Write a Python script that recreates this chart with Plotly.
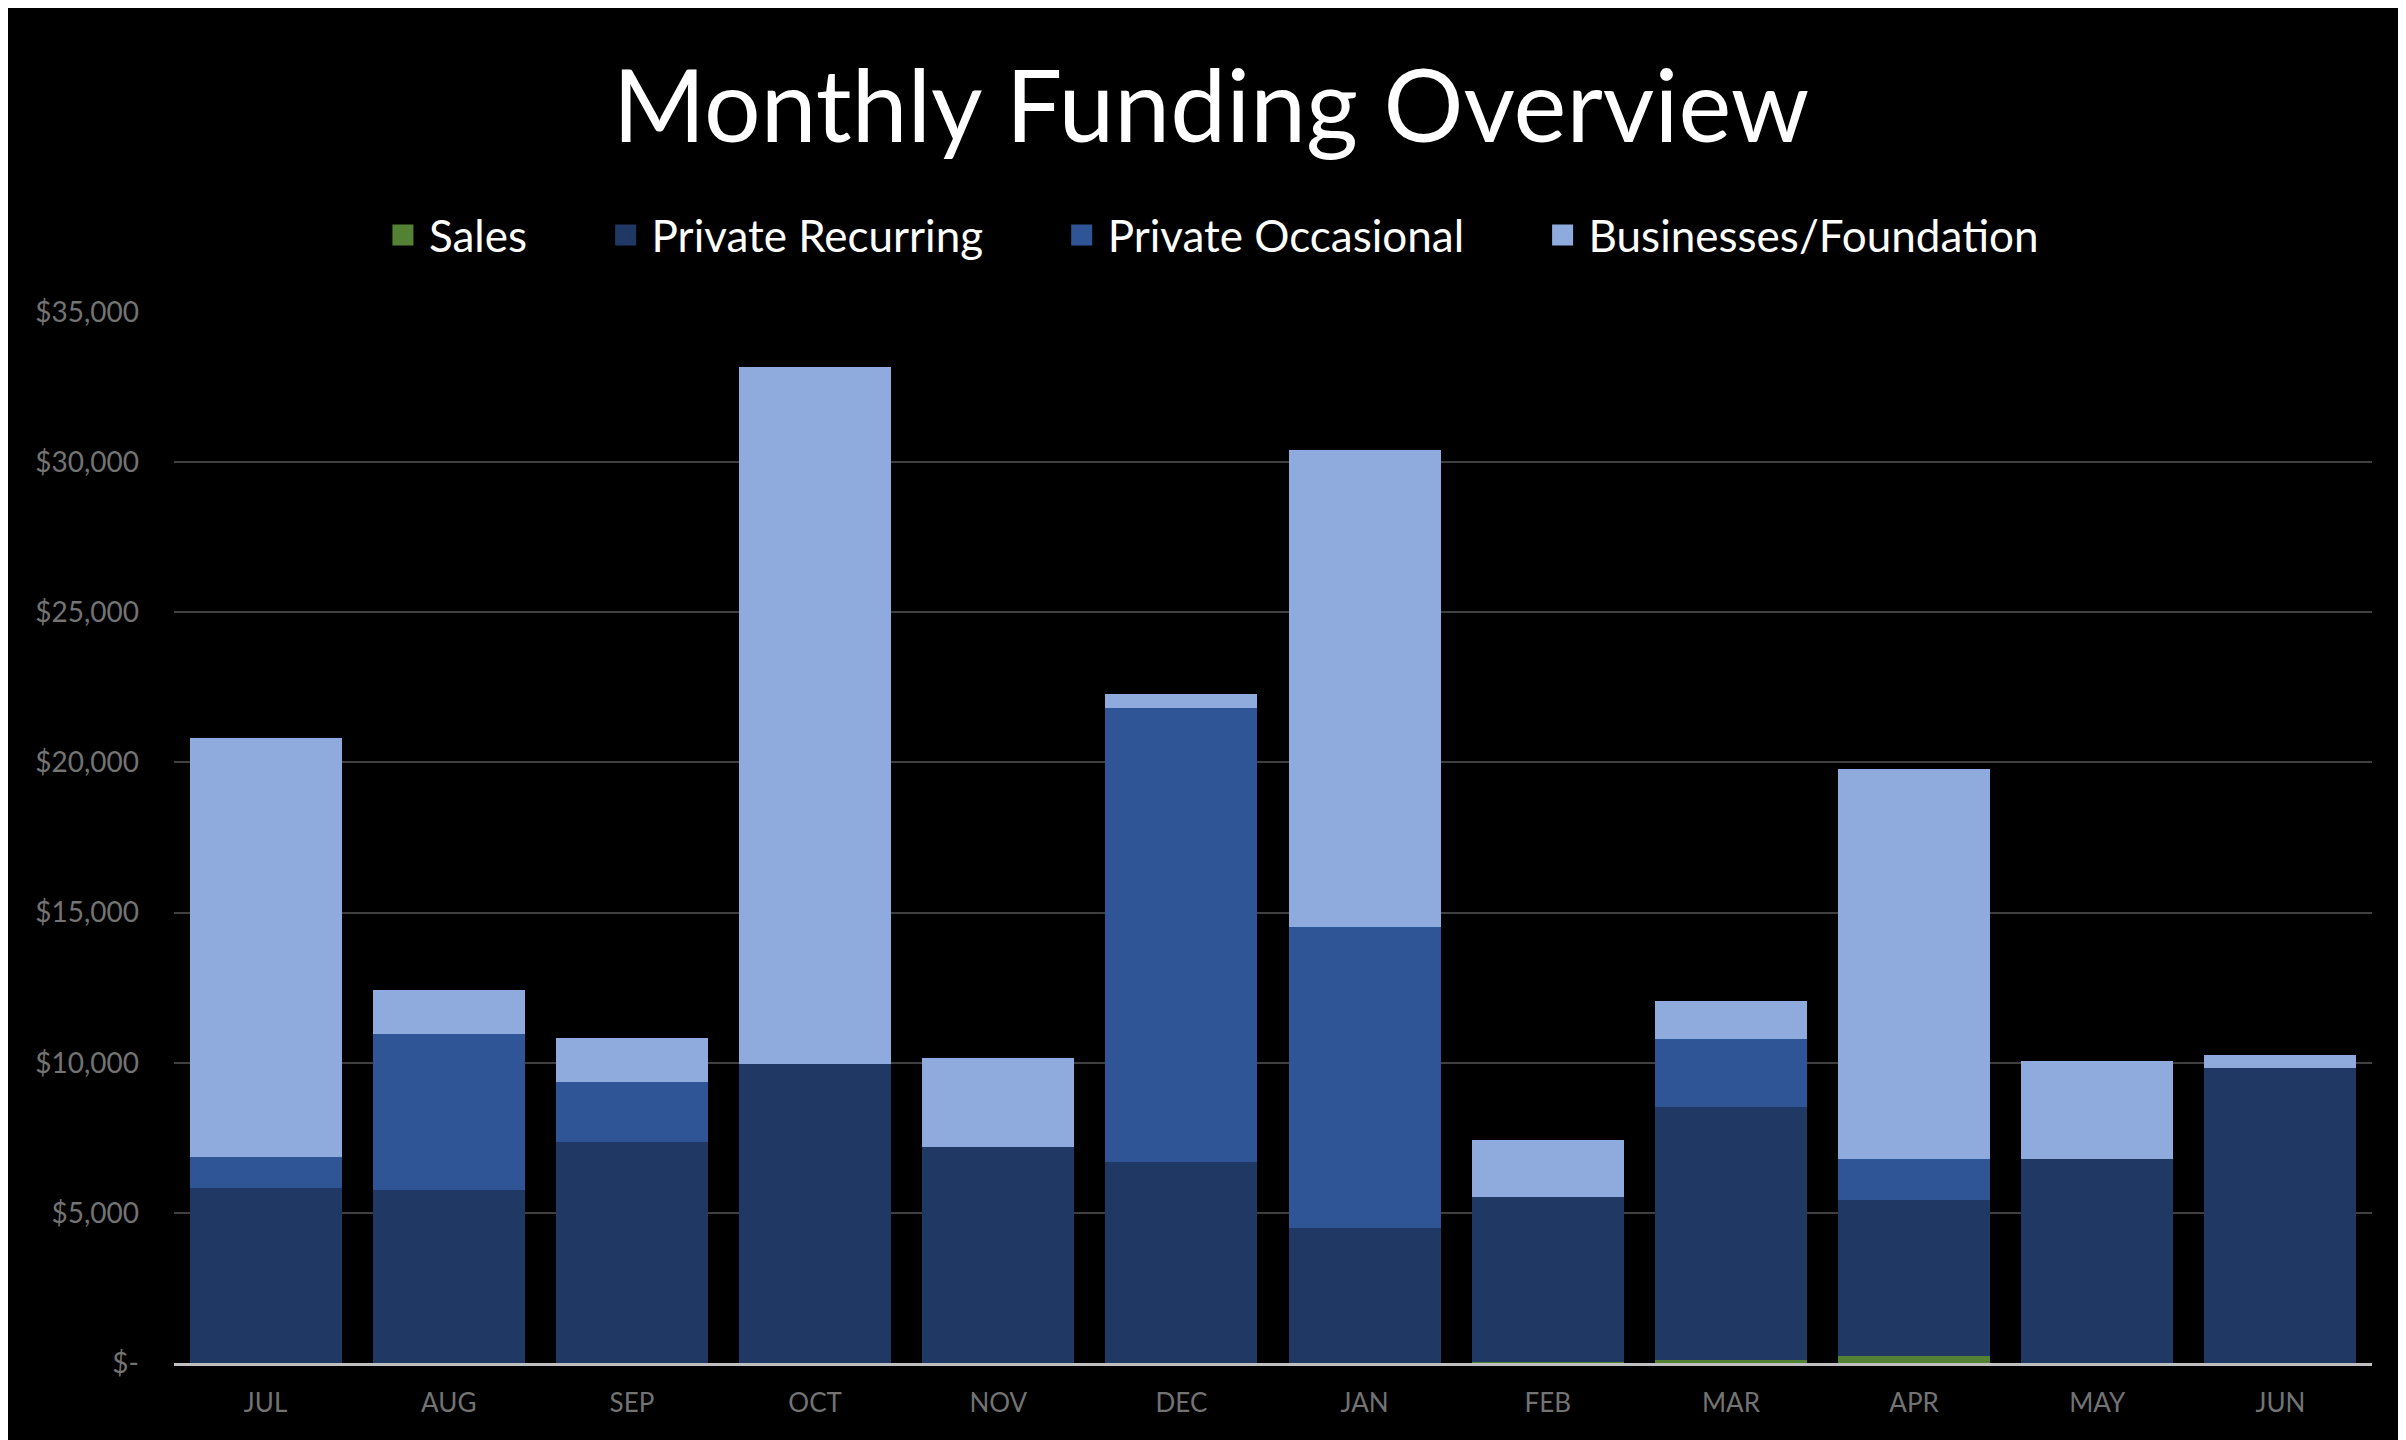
import plotly.graph_objects as go

months = ["JUL", "AUG", "SEP", "OCT", "NOV", "DEC", "JAN", "FEB", "MAR", "APR", "MAY", "JUN"]

sales = [0, 0, 0, 0, 0, 0, 0, 30, 100, 240, 0, 0]
private_recurring = [5830, 5770, 7360, 9960, 7200, 6690, 4500, 5490, 8430, 5180, 6800, 9810]
private_occasional = [1020, 5170, 1990, 0, 0, 15130, 10010, 0, 2250, 1380, 0, 0]
businesses = [13950, 1480, 1480, 23200, 2970, 460, 15890, 1890, 1280, 12980, 3270, 460]

tick_vals = [0, 5000, 10000, 15000, 20000, 25000, 30000, 35000]
tick_text = ["$-", "$5,000", "$10,000", "$15,000", "$20,000", "$25,000", "$30,000", "$35,000"]

series = [
    ("Sales", sales, "#548235"),
    ("Private Recurring", private_recurring, "#203864"),
    ("Private Occasional", private_occasional, "#2F5597"),
    ("Businesses/Foundation", businesses, "#8FAADC"),
]

# space after each legend entry
pad = "\u00a0" * 6

fig = go.Figure()
for name, vals, color in series:
    fig.add_trace(go.Bar(x=months, y=vals, name=name, showlegend=False,
                         marker=dict(color=color, line=dict(width=0))))

# legend-only entries so the swatches can be bigger
for name, vals, color in series:
    fig.add_trace(go.Scatter(x=[None], y=[None], mode="markers", name=name + pad,
                             marker=dict(symbol="square", size=16, color=color,
                                         line=dict(width=5, color=color))))

fig.update_layout(
    barmode="stack",
    bargap=0.17,
    width=2406,
    height=1440,
    paper_bgcolor="black",
    plot_bgcolor="black",
    font=dict(family="Lato", color="#8C8C8C"),
    title=dict(
        text="Monthly Funding Overview",
        x=0.5,
        xanchor="center",
        y=0.931,
        yanchor="middle",
        font=dict(size=100, color="white", family="Lato"),
    ),
    legend=dict(
        orientation="h",
        x=0.487,
        xanchor="center",
        y=1.073,
        yanchor="middle",
        font=dict(size=44, color="white"),
        traceorder="normal",
        itemwidth=42,
    ),
    margin=dict(l=166, r=42, t=304, b=85),
    xaxis=dict(
        showgrid=False,
        showline=True,
        linecolor="#BFBFBF",
        linewidth=3,
        tickfont=dict(size=26, color="#737373"),
        ticks="",
        ticklabelstandoff=15,
    ),
    yaxis=dict(
        range=[0, 35000],
        tickvals=tick_vals,
        ticktext=tick_text,
        showgrid=True,
        gridcolor="#404040",
        gridwidth=2,
        zeroline=False,
        tickfont=dict(size=28, color="#737373"),
        ticklabelstandoff=34,
    ),
)

fig.write_html("out.html")
